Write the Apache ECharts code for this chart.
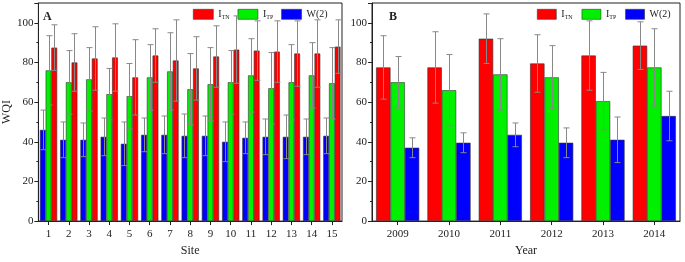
<!DOCTYPE html>
<html>
<head>
<meta charset="utf-8">
<script src="https://cdn.jsdelivr.net/npm/echarts@6/dist/echarts.min.js"></script>
<style>
html,body{margin:0;padding:0;background:#fff;}
#container{width:685px;height:262px;}
</style>
</head>
<body>
<div id="container"></div>
<script>
// panel A - sites
var sites = ['1','2','3','4','5','6','7','8','9','10','11','12','13','14','15'];
var siteW   = [46, 41, 41, 42.5, 39, 43.5, 43.5, 43, 43, 40, 42, 42.5, 42.5, 42.5, 43];
var siteWErr = [10, 9, 8.5, 9.5, 11, 8.5, 9.5, 11, 10, 10, 8, 9, 11, 9, 9];
var siteTP  = [76, 70, 71.5, 64, 63, 72.5, 75.5, 66.5, 69, 70, 73.5, 67, 70, 73.5, 69.5];
var siteTPErr = [17.5, 16, 16, 13, 16.5, 16.5, 19.5, 18, 18.5, 16, 18.5, 18, 19, 16.5, 18];
var siteTN  = [87.5, 80, 82, 82.5, 72.5, 83.5, 81, 77, 83, 86.5, 86, 85.5, 84.5, 84.5, 88];
var siteTNErr = [11.5, 14.5, 16, 17, 19, 13.5, 20.5, 16, 15.5, 17, 15, 15.5, 16.5, 17, 13.5];

// panel B - years
var years = ['2009','2010','2011','2012','2013','2014'];
var yearTN  = [77.5, 77.5, 92, 79.5, 83.5, 88.5];
var yearTNErr = [16, 18, 12.5, 14.5, 17.5, 12];
var yearTP  = [70, 66, 74, 72.5, 60.5, 77.5];
var yearTPErr = [13, 18, 18, 16, 14.5, 19.5];
var yearW   = [37, 39.5, 43.5, 39.5, 41, 53];
var yearWErr = [5, 5, 6, 7.5, 11.5, 12.5];

var yTicks = [0, 20, 40, 60, 80, 100];

var FONT = 'Liberation Serif';
var colTN = '#ff0000', colTP = '#00f000', colW = '#0000ff';

function errData(vals, errs) {
    var res = [];
    for (var i = 0; i < vals.length; i++) {
        res.push([i, vals[i], errs[i]]);
    }
    return res;
}

// error bar drawn over bar number idx of n in each group
function errSeries(name, axisIdx, vals, errs, idx, n, gap) {
    return {
        name: name + '_err',
        type: 'custom',
        xAxisIndex: axisIdx,
        yAxisIndex: axisIdx,
        z: 5,
        silent: true,
        data: errData(vals, errs),
        renderItem: function (params, api) {
            var band = api.size([1, 0])[0];
            var bw = band * (1 - gap) / n;
            var off = (idx - (n - 1) / 2) * bw;
            var top = api.coord([api.value(0), api.value(1) + api.value(2)]);
            var bot = api.coord([api.value(0), api.value(1) - api.value(2)]);
            var x = Math.round(top[0] + off) + 0.5;
            var cap = 3;
            var st = { stroke: '#888', lineWidth: 1 };
            return {
                type: 'group',
                children: [
                    { type: 'line', shape: { x1: x, y1: top[1], x2: x, y2: bot[1] }, style: st },
                    { type: 'line', shape: { x1: x - cap, y1: top[1], x2: x + cap, y2: top[1] }, style: st },
                    { type: 'line', shape: { x1: x - cap, y1: bot[1], x2: x + cap, y2: bot[1] }, style: st }
                ]
            };
        }
    };
}

function barSeries(name, axisIdx, vals, color, gapPct) {
    return {
        name: name,
        type: 'bar',
        xAxisIndex: axisIdx,
        yAxisIndex: axisIdx,
        data: vals,
        barGap: '0%',
        barCategoryGap: gapPct,
        itemStyle: { color: color, borderColor: '#333', borderWidth: 0.6 }
    };
}

function xAx(idx, cats, name) {
    return {
        type: 'category',
        gridIndex: idx,
        data: cats,
        name: name,
        nameLocation: 'middle',
        nameGap: 23,
        nameTextStyle: { fontFamily: FONT, fontSize: 12, color: '#222' },
        axisLine: { show: true, lineStyle: { color: '#222', width: 1 } },
        axisTick: { show: true, alignWithLabel: true, length: 4, lineStyle: { color: '#222' } },
        axisLabel: { fontFamily: FONT, fontSize: 11, color: '#222', margin: 8 },
        splitLine: { show: false }
    };
}

function yAx(idx, name) {
    return {
        type: 'value',
        gridIndex: idx,
        min: 0,
        max: 110,
        interval: 20,
        name: name,
        nameLocation: 'middle',
        nameGap: 22,
        nameTextStyle: { fontFamily: FONT, fontSize: 12, color: '#222' },
        axisLine: { show: true, lineStyle: { color: '#222', width: 1 } },
        axisTick: { show: true, length: 4, lineStyle: { color: '#222' } },
        minorTick: { show: true, splitNumber: 2, length: 2, lineStyle: { color: '#222' } },
        axisLabel: {
            fontFamily: FONT, fontSize: 11, color: '#222', margin: 5,
            formatter: function (v) { return yTicks.indexOf(v) >= 0 ? v : ''; }
        },
        splitLine: { show: false }
    };
}

var rich = {
    s: { fontFamily: FONT, fontSize: 6, color: '#222', verticalAlign: 'bottom', padding: [6, 0, 0, 0] },
    n: { fontFamily: FONT, fontSize: 10, color: '#222' }
};
function legendFmt(name) {
    if (name === 'ITN') return '{n|I}{s|TN}';
    if (name === 'ITP') return '{n|I}{s|TP}';
    return '{n|' + name + '}';
}

var option = {
    backgroundColor: '#fff',
    animation: false,
    grid: [
        { left: 32, right: 343, top: 3, bottom: 30, show: true, borderColor: '#222', borderWidth: 1 },
        { left: 372, right: 5, top: 3, bottom: 30, show: true, borderColor: '#222', borderWidth: 1 }
    ],
    legend: [
        {
            data: ['ITN', 'ITP', 'W(2)'], left: 188, top: 4, itemWidth: 20, itemHeight: 10, itemGap: 8,
            icon: 'rect', formatter: legendFmt, textStyle: { rich: rich },
            itemStyle: { borderColor: '#333', borderWidth: 0.6 }
        },
        {
            data: ['ITN', 'ITP', 'W(2)'], left: 532, top: 4, itemWidth: 19, itemHeight: 10, itemGap: 9,
            icon: 'rect', formatter: legendFmt, textStyle: { rich: rich },
            itemStyle: { borderColor: '#333', borderWidth: 0.6 }
        }
    ],
    graphic: [
        { type: 'text', left: 43, top: 11, style: { text: 'A', fontFamily: FONT, fontWeight: 'bold', fontSize: 12, fill: '#222' } },
        { type: 'text', left: 389, top: 11, style: { text: 'B', fontFamily: FONT, fontWeight: 'bold', fontSize: 12, fill: '#222' } }
    ],
    xAxis: [xAx(0, sites, 'Site'), xAx(1, years, 'Year')],
    yAxis: [yAx(0, 'WQI'), yAx(1, '')],
    series: [
        barSeries('W(2)', 0, siteW, colW, '15%'),
        barSeries('ITP', 0, siteTP, colTP, '15%'),
        barSeries('ITN', 0, siteTN, colTN, '15%'),
        errSeries('W(2)', 0, siteW, siteWErr, 0, 3, 0.15),
        errSeries('ITP', 0, siteTP, siteTPErr, 1, 3, 0.15),
        errSeries('ITN', 0, siteTN, siteTNErr, 2, 3, 0.15),
        barSeries('ITN', 1, yearTN, colTN, '16%'),
        barSeries('ITP', 1, yearTP, colTP, '16%'),
        barSeries('W(2)', 1, yearW, colW, '16%'),
        errSeries('ITN', 1, yearTN, yearTNErr, 0, 3, 0.16),
        errSeries('ITP', 1, yearTP, yearTPErr, 1, 3, 0.16),
        errSeries('W(2)', 1, yearW, yearWErr, 2, 3, 0.16)
    ]
};

var myChart = echarts.init(document.getElementById('container'));
myChart.setOption(option);
</script>
</body>
</html>
